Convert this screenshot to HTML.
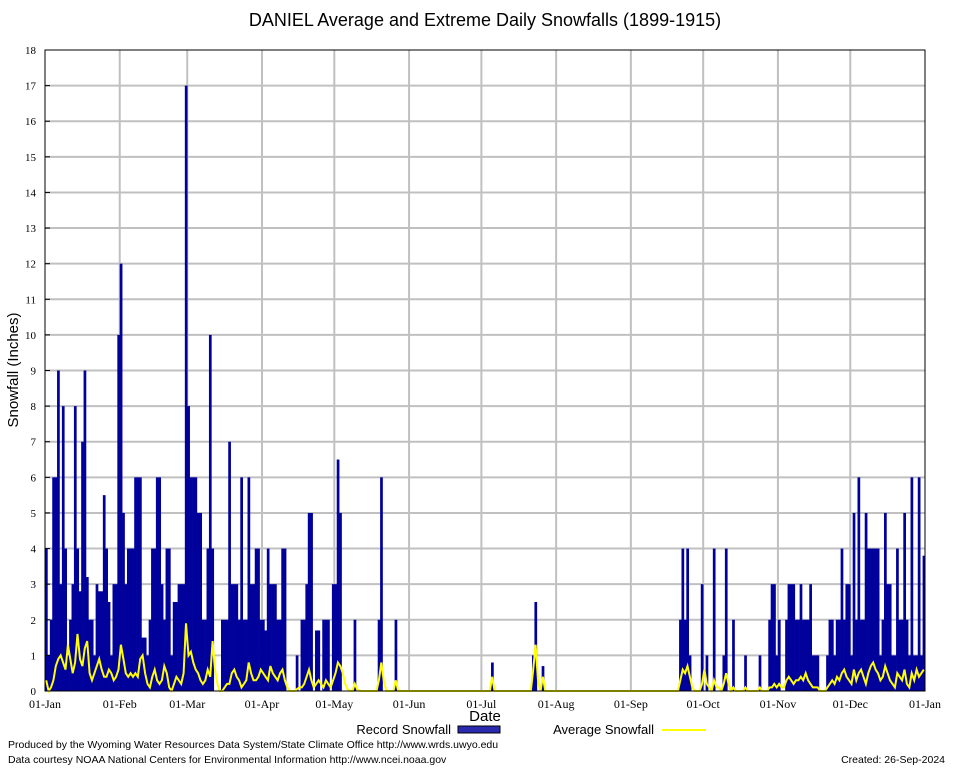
<!DOCTYPE html>
<html><head><meta charset="utf-8"><style>
html,body{margin:0;padding:0;background:#fff;}
svg text{font-family:"Liberation Sans",sans-serif;}
svg text.serif{font-family:"Liberation Serif",serif;}
</style></head><body>
<svg id="chart" width="954" height="768" xmlns="http://www.w3.org/2000/svg">
<rect x="0" y="0" width="954" height="768" fill="#fff"/>
<text x="485" y="26" font-size="18" text-anchor="middle" fill="#000">DANIEL Average and Extreme Daily Snowfalls (1899-1915)</text>
<text transform="translate(18,370) rotate(-90)" font-size="15" text-anchor="middle" fill="#000">Snowfall (Inches)</text>
<text x="485" y="721" font-size="15" text-anchor="middle" fill="#000">Date</text>
<g id="grid"></g><g id="bars"></g><g id="avg"></g><g id="axes"></g>
<g>
<text x="451" y="734" font-size="13" text-anchor="end">Record Snowfall</text>
<rect x="458" y="726" width="42" height="7" fill="#2a2ab0" stroke="#000" stroke-width="1"/>
<text x="654" y="734" font-size="13" text-anchor="end">Average Snowfall</text>
<line x1="662" y1="730" x2="706" y2="730" stroke="#ffff00" stroke-width="2"/>
</g>
<text x="8" y="748" font-size="10.5">Produced by the Wyoming Water Resources Data System/State Climate Office http://www.wrds.uwyo.edu</text>
<text x="8" y="763" font-size="10.5">Data courtesy NOAA National Centers for Environmental Information http://www.ncei.noaa.gov</text>
<text x="945" y="763" font-size="10.5" text-anchor="end">Created:  26-Sep-2024</text>
</svg>
<script>
const yTicks=[0,1,2,3,4,5,6,7,8,9,10,11,12,13,14,15,16,17,18];
const monthLabels=["01-Jan","01-Feb","01-Mar","01-Apr","01-May","01-Jun","01-Jul","01-Aug","01-Sep","01-Oct","01-Nov","01-Dec","01-Jan"];
const monthStarts=[0,31,59,90,120,151,181,212,243,273,304,334,365];
const recJan=[4,1,2,6,6,9,3,8,4,1,2,3,8,4,2.8,7,9,3.2,2,2,1,3,2.8,2.8,5.5,4,2.5,1,3,3,10];
const recFeb=[12,5,3,4,4,4,6,6,6,1.5,1.5,1,2,4,4,6,6,3,2,4,4,1,2.5,2.5,3,3,3,17];
const recMar=[8,6,6,6,5,5,2,2,4,10,4,0,0,0,2,2,2,7,3,3,3,2,6,2,2,6,3,3,4,4,2];
const recApr=[2,1.7,4,3,3,3,2,2,4,4,0,0,0,0,1,0,2,2,3,5,5,0,1.7,1.7,0,2,2,2,0,3];
const recMay=[3,6.5,5,0,0,0,0,0,2,0,0,0,0,0,0,0,0,0,2,6,0,0,0,0,0,2,0,0,0,0,0];
const recJun=[0,0,0,0,0,0,0,0,0,0,0,0,0,0,0,0,0,0,0,0,0,0,0,0,0,0,0,0,0,0];
const recJul=[0,0,0,0,0.8,0,0,0,0,0,0,0,0,0,0,0,0,0,0,0,0,1,2.5,0,0,0.7,0,0,0,0,0];
const recAug=[0,0,0,0,0,0,0,0,0,0,0,0,0,0,0,0,0,0,0,0,0,0,0,0,0,0,0,0,0,0,0];
const recSep=[0,0,0,0,0,0,0,0,0,0,0,0,0,0,0,0,0,0,0,0,2,4,2,4,1,0,0,0,0,3];
const recOct=[0,1,0,0,4,0,0,0,1,4,0,0,2,0,0,0,0,1,0,0,0,0,0,1,0,0,0,2,3,3,1];
const recNov=[2,0,0,2,3,3,3,2,2,3,2,2,2,3,1,1,1,0,0,0,1,2,2,1,2,2,4,2,3,3];
const recDec=[1,5,2,6,2,2,5,4,4,4,4,4,1,2,5,3,3,1,1,4,2,2,5,2,1,6,1,1,6,1,3.8];
const avgJan=[0.3,0,0.1,0.3,0.7,0.9,1.0,0.8,0.6,1.3,0.9,0.5,0.8,1.6,0.9,0.7,1.2,1.4,0.5,0.3,0.5,0.7,0.9,0.6,0.4,0.4,0.6,0.5,0.3,0.4,0.6];
const avgFeb=[1.3,0.9,0.5,0.4,0.5,0.4,0.5,0.4,0.9,1.0,0.5,0.2,0.1,0.4,0.6,0.3,0.2,0.3,0.7,0.5,0.1,0,0.2,0.4,0.3,0.2,0.5,1.9];
const avgMar=[1.0,1.1,0.8,0.6,0.5,0.3,0.2,0.3,0.6,0.4,1.4,0.6,0.2,0,0,0.1,0.2,0.2,0.5,0.6,0.4,0.3,0.1,0.2,0.3,0.8,0.5,0.3,0.3,0.4,0.6];
const avgApr=[0.5,0.4,0.3,0.7,0.5,0.4,0.3,0.5,0.6,0.3,0.1,0,0,0,0.05,0.1,0.1,0.2,0.4,0.6,0.3,0.1,0.2,0.3,0.2,0.1,0.3,0.2,0.1,0.3];
const avgMay=[0.5,0.8,0.7,0.5,0.2,0.05,0,0,0.2,0.05,0,0,0,0,0,0,0,0,0.3,0.8,0.3,0,0,0,0,0.3,0,0,0,0,0];
const avgJun=[0,0,0,0,0,0,0,0,0,0,0,0,0,0,0,0,0,0,0,0,0,0,0,0,0,0,0,0,0,0];
const avgJul=[0,0,0,0,0.4,0,0,0,0,0,0,0,0,0,0,0,0,0,0,0,0,0.6,1.3,0.3,0,0.4,0,0,0,0,0];
const avgAug=[0,0,0,0,0,0,0,0,0,0,0,0,0,0,0,0,0,0,0,0,0,0,0,0,0,0,0,0,0,0,0];
const avgSep=[0,0,0,0,0,0,0,0,0,0,0,0,0,0,0,0,0,0,0,0,0.3,0.6,0.5,0.7,0.4,0.1,0,0,0,0.2];
const avgOct=[0.6,0.2,0.1,0,0.3,0.1,0.1,0,0.2,0.5,0.2,0,0.1,0,0,0,0,0.1,0,0,0,0,0,0.1,0,0,0,0.1,0.1,0.2,0.1];
const avgNov=[0.2,0.1,0.1,0.3,0.4,0.3,0.2,0.3,0.3,0.4,0.3,0.5,0.3,0.2,0.1,0.1,0.1,0,0,0,0.1,0.2,0.3,0.2,0.4,0.3,0.5,0.6,0.4,0.3];
const avgDec=[0.2,0.6,0.3,0.5,0.6,0.4,0.2,0.5,0.7,0.8,0.6,0.5,0.3,0.4,0.7,0.5,0.3,0.2,0.1,0.5,0.4,0.3,0.6,0.2,0.1,0.5,0.3,0.6,0.4,0.5,0.6];
const record=[].concat(recJan,recFeb,recMar,recApr,recMay,recJun,recJul,recAug,recSep,recOct,recNov,recDec);
const average=[].concat(avgJan,avgFeb,avgMar,avgApr,avgMay,avgJun,avgJul,avgAug,avgSep,avgOct,avgNov,avgDec);

const NS="http://www.w3.org/2000/svg";
const L=45,R=925,T=50,B=691,yMax=18,nDays=365;
const xDay=d=>L+d*(R-L)/nDays;
const yVal=v=>B-v*(B-T)/yMax;
function mk(tag,attrs,parent){const e=document.createElementNS(NS,tag);for(const k in attrs)e.setAttribute(k,attrs[k]);parent.appendChild(e);return e;}
const grid=document.getElementById('grid'),bars=document.getElementById('bars'),avgG=document.getElementById('avg'),axes=document.getElementById('axes');
yTicks.forEach(t=>{
  if(t>0&&t<yMax){const g=mk('line',{x1:L,x2:R,y1:yVal(t),y2:yVal(t),stroke:'#c0c0c0','stroke-width':2},grid);
  
  }
  const tk=mk('line',{x1:L,x2:L+5,y1:yVal(t),y2:yVal(t),stroke:'#000','stroke-width':1},axes);
  
  
  const lb=mk('text',{x:L-9,y:yVal(t)+4,'font-size':11,'text-anchor':'end',fill:'#000','class':'serif'},axes);
  lb.textContent=t;
  
  
});
monthStarts.forEach((d,i)=>{
  if(i>0&&i<12){const g=mk('line',{x1:xDay(d),x2:xDay(d),y1:T,y2:B,stroke:'#c0c0c0','stroke-width':2},grid);
  
  }
  const lb=mk('text',{x:xDay(d),y:708,'font-size':12,'text-anchor':'middle',fill:'#000','class':'serif'},axes);
  lb.textContent=monthLabels[i];
  
  
});
const bw=(R-L)/nDays;
record.forEach((v,d)=>{
  if(v<=0)return;
  const r=mk('rect',{x:xDay(d),y:yVal(v),width:bw+0.3,height:B-yVal(v),fill:'#00009b'},bars);
  
  
});
const pts=average.map((v,d)=>xDay(d+0.5).toFixed(1)+','+yVal(v).toFixed(1)).join(' ');
const pl=mk('polyline',{points:pts,fill:'none',stroke:'#ffff00','stroke-width':2},avgG);


const fr=mk('rect',{x:L,y:T,width:R-L,height:B-T,fill:'none',stroke:'#000','stroke-width':1},axes);


</script>
</body></html>
